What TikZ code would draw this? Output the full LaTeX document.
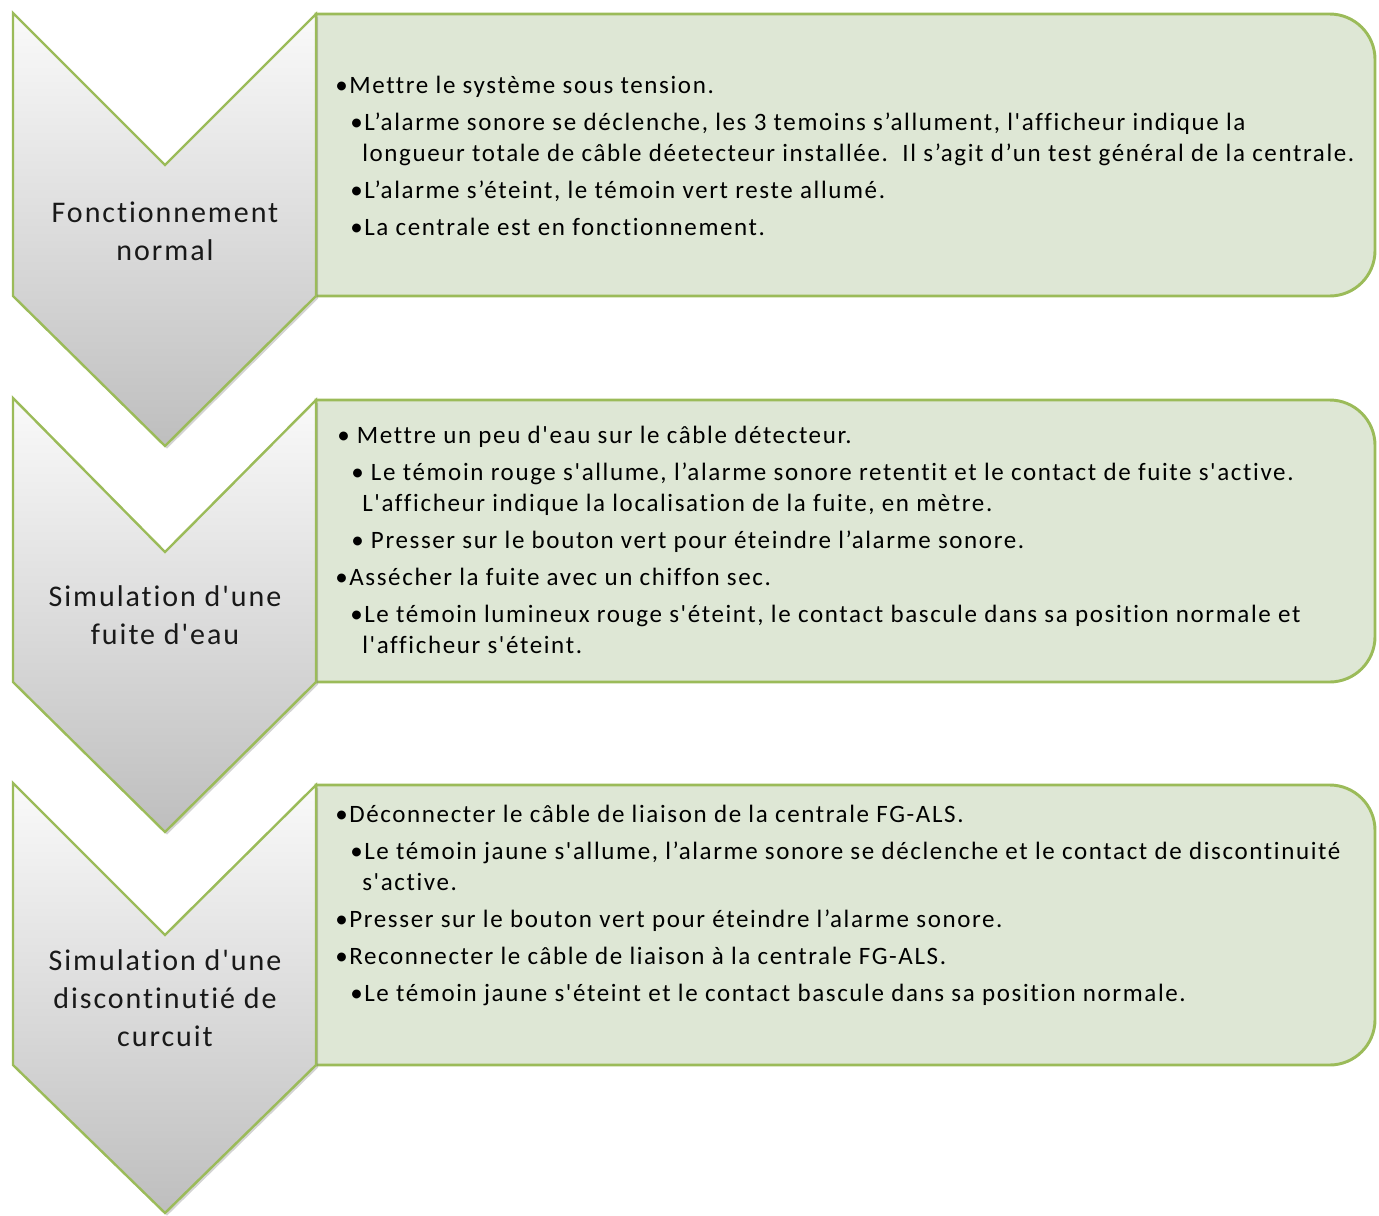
\documentclass[tikz,border=0pt]{standalone}
\usepackage{fontspec}
\setmainfont{Carlito}[Ligatures={TeXOff,NoCommon}, LetterSpace=6.5]
\usetikzlibrary{shadows}
\definecolor{gborder}{RGB}{155,187,89}
\definecolor{gfill}{RGB}{222,231,213}
\definecolor{chtop}{RGB}{250,250,250}
\definecolor{chbot}{RGB}{190,190,190}
\tikzset{
  boxshape/.style={draw=gborder, line width=2.2pt, fill=gfill},
  chevshape/.style={draw=gborder, line width=1.8pt, top color=chtop, bottom color=chbot,
     drop shadow={opacity=0.35, shadow xshift=1.5pt, shadow yshift=-2pt}},
  txt/.style={inner sep=0pt, anchor=base west, font=\fontsize{18.75pt}{22pt}\selectfont},
  lab/.style={inner sep=0pt, anchor=base, font=\fontsize{22.5pt}{27pt}\selectfont, text=black!90}
}
\begin{document}
\begin{tikzpicture}[x=0.75pt,y=-0.75pt]
\useasboundingbox (0,0) rectangle (1379,1215);
% ---------- Block 1 ----------
\draw[boxshape] (316,14) -- (1200,14) [rounded corners=34pt] -- (1375,14) -- (1375,296) -- (1200,296) [sharp corners] -- (316,296) -- cycle;
\path[chevshape] (13,13) -- (165,165) -- (316,14) -- (316,296) -- (165,446) -- (13,296) -- cycle;
\node[lab] (c1a) at (165,222) {Fonctionnement};
\node[lab] (c1b) at (165,260) {normal};
\node[txt] (t1a) at (335,93) {•Mettre le système sous tension.};
\node[txt] (t1b) at (350,130) {•L’alarme sonore se déclenche, les 3 temoins s’allument, l'afficheur indique la};
\node[txt] (t1c) at (362,161) {longueur totale de câble déetecteur installée.\ \ Il s’agit d’un test général de la centrale.};
\node[txt] (t1d) at (350,198) {•L’alarme s’éteint, le témoin vert reste allumé.};
\node[txt] (t1e) at (350,235) {•La centrale est en fonctionnement.};
% ---------- Block 2 ----------
\draw[boxshape] (316,400) -- (1200,400) [rounded corners=34pt] -- (1375,400) -- (1375,682) -- (1200,682) [sharp corners] -- (316,682) -- cycle;
\path[chevshape] (13,398) -- (165,552) -- (316,400) -- (316,682) -- (165,832) -- (13,682) -- cycle;
\node[lab] (c2a) at (165,606) {Simulation d'une};
\node[lab] (c2b) at (165,644) {fuite d'eau};
\node[txt] (t2a) at (337,443) {• Mettre un peu d'eau sur le câble détecteur.};
\node[txt] (t2b) at (351,480) {• Le témoin rouge s'allume, l’alarme sonore retentit et le contact de fuite s'active.};
\node[txt] (t2c) at (362,511) {L'afficheur indique la localisation de la fuite, en mètre.};
\node[txt] (t2d) at (351,548) {• Presser sur le bouton vert pour éteindre l’alarme sonore.};
\node[txt] (t2e) at (335,585) {•Assécher la fuite avec un chiffon sec.};
\node[txt] (t2f) at (350,622) {•Le témoin lumineux rouge s'éteint, le contact bascule dans sa position normale et};
\node[txt] (t2g) at (362,653) {l'afficheur s'éteint.};
% ---------- Block 3 ----------
\draw[boxshape] (316,785) -- (1200,785) [rounded corners=34pt] -- (1375,785) -- (1375,1065) -- (1200,1065) [sharp corners] -- (316,1065) -- cycle;
\path[chevshape] (13,783) -- (165,935) -- (316,785) -- (316,1065) -- (165,1213) -- (13,1065) -- cycle;
\node[lab] (c3a) at (165,970) {Simulation d'une};
\node[lab] (c3b) at (165,1008) {discontinutié de};
\node[lab] (c3c) at (165,1046) {curcuit};
\node[txt] (t3a) at (335,822) {•Déconnecter le câble de liaison de la centrale FG-ALS.};
\node[txt] (t3b) at (350,859) {•Le témoin jaune s'allume, l’alarme sonore se déclenche et le contact de discontinuité};
\node[txt] (t3c) at (362,890) {s'active.};
\node[txt] (t3d) at (335,927) {•Presser sur le bouton vert pour éteindre l’alarme sonore.};
\node[txt] (t3e) at (335,964) {•Reconnecter le câble de liaison à la centrale FG-ALS.};
\node[txt] (t3f) at (350,1001) {•Le témoin jaune s'éteint et le contact bascule dans sa position normale.};
\end{tikzpicture}
\end{document}
